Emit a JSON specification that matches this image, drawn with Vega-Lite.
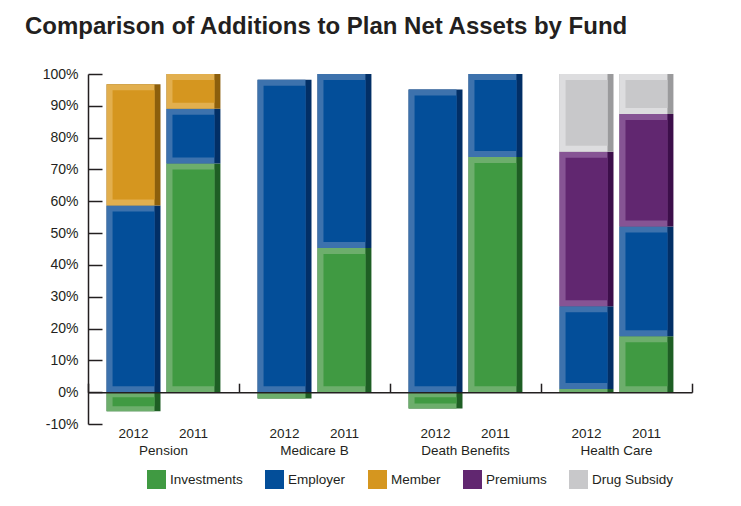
{
  "$schema": "https://vega.github.io/schema/vega-lite/v6.json",
  "width": 604,
  "height": 350,
  "autosize": {"type": "none"},
  "padding": {"left": 88, "top": 74, "right": 49, "bottom": 82},
  "background": "white",
  "title": {
    "text": "Comparison of Additions to Plan Net Assets by Fund",
    "anchor": "start",
    "frame": "group",
    "dx": -63,
    "offset": 9,
    "baseline": "alphabetic",
    "fontSize": 24,
    "font": "Liberation Sans",
    "fontWeight": "bold",
    "color": "#231F20"
  },
  "config": {
    "view": {"stroke": null},
    "font": "Liberation Sans",
    "legend": {
      "orient": "none",
      "legendX": 59,
      "legendY": 396,
      "direction": "horizontal",
      "padding": 0,
      "symbolType": "square",
      "symbolSize": 361,
      "symbolStrokeWidth": 0,
      "symbolOpacity": 1,
      "labelFontSize": 13.5,
      "labelFont": "Liberation Sans",
      "labelColor": "#231F20",
      "labelOffset": 4,
      "columnPadding": 22
    }
  },
  "datasets": {
    "shares": [
      {"fund": "Pension", "year": "2012", "series": "Investments", "rank": 1, "share": -0.06},
      {"fund": "Pension", "year": "2012", "series": "Employer", "rank": 2, "share": 0.587},
      {"fund": "Pension", "year": "2012", "series": "Member", "rank": 3, "share": 0.381},
      {"fund": "Pension", "year": "2011", "series": "Investments", "rank": 1, "share": 0.719},
      {"fund": "Pension", "year": "2011", "series": "Employer", "rank": 2, "share": 0.172},
      {"fund": "Pension", "year": "2011", "series": "Member", "rank": 3, "share": 0.109},
      {"fund": "Medicare B", "year": "2012", "series": "Investments", "rank": 1, "share": -0.02},
      {"fund": "Medicare B", "year": "2012", "series": "Employer", "rank": 2, "share": 0.982},
      {"fund": "Medicare B", "year": "2011", "series": "Investments", "rank": 1, "share": 0.453},
      {"fund": "Medicare B", "year": "2011", "series": "Employer", "rank": 2, "share": 0.547},
      {"fund": "Death Benefits", "year": "2012", "series": "Investments", "rank": 1, "share": -0.051},
      {"fund": "Death Benefits", "year": "2012", "series": "Employer", "rank": 2, "share": 0.951},
      {"fund": "Death Benefits", "year": "2011", "series": "Investments", "rank": 1, "share": 0.739},
      {"fund": "Death Benefits", "year": "2011", "series": "Employer", "rank": 2, "share": 0.261},
      {"fund": "Health Care", "year": "2012", "series": "Investments", "rank": 1, "share": 0.01},
      {"fund": "Health Care", "year": "2012", "series": "Employer", "rank": 2, "share": 0.26},
      {"fund": "Health Care", "year": "2012", "series": "Premiums", "rank": 4, "share": 0.486},
      {"fund": "Health Care", "year": "2012", "series": "Drug Subsidy", "rank": 5, "share": 0.244},
      {"fund": "Health Care", "year": "2011", "series": "Investments", "rank": 1, "share": 0.176},
      {"fund": "Health Care", "year": "2011", "series": "Employer", "rank": 2, "share": 0.345},
      {"fund": "Health Care", "year": "2011", "series": "Premiums", "rank": 4, "share": 0.353},
      {"fund": "Health Care", "year": "2011", "series": "Drug Subsidy", "rank": 5, "share": 0.126}
    ]
  },
  "resolve": {"scale": {"fill": "independent", "xOffset": "independent"}},
  "layer": [
    {
      "data": {"name": "shares"},
      "mark": {"type": "bar"},
      "encoding": {
        "x": {
          "field": "fund",
          "type": "nominal",
          "sort": ["Pension", "Medicare B", "Death Benefits", "Health Care"],
          "scale": {"paddingInner": 0, "paddingOuter": 0},
          "axis": {
            "title": null,
            "labels": false,
            "domain": true,
            "ticks": true,
            "tickBand": "extent",
            "tickSize": -9,
            "tickWidth": 1.5,
            "tickColor": "#231F20",
            "domainColor": "#231F20",
            "domainWidth": 1.5,
            "offset": -31.8,
            "zindex": 1
          }
        },
        "xOffset": {
          "field": "year",
          "type": "nominal",
          "sort": ["2012", "2011"],
          "scale": {"paddingInner": 0.1, "paddingOuter": 0.31}
        },
        "y": {
          "field": "share",
          "type": "quantitative",
          "stack": "zero",
          "scale": {"domain": [-0.1, 1], "nice": false, "zero": false},
          "axis": {
            "title": null,
            "grid": false,
            "values": [-0.1, 0, 0.1, 0.2, 0.3, 0.4, 0.5, 0.6, 0.7, 0.8, 0.9, 1],
            "tickCount": 12,
            "labelExpr": "round(datum.value * 100) + '%'",
            "labelOverlap": false,
            "labelFontSize": 14,
            "labelFont": "Liberation Sans",
            "labelColor": "#231F20",
            "labelPadding": 24,
            "tickSize": -14,
            "tickWidth": 1.5,
            "tickColor": "#231F20",
            "domainColor": "#231F20",
            "domainWidth": 1.5
          }
        },
        "fill": {
          "field": "series",
          "type": "nominal",
          "scale": {
            "domain": ["Investments", "Employer", "Member", "Premiums", "Drug Subsidy"],
            "range": ["#1E5E24", "#022F66", "#8C5F0C", "#3C0E4A", "#9A9A9C"]
          },
          "legend": null
        },
        "order": {"field": "rank", "type": "quantitative"}
      }
    },
    {
      "data": {"name": "shares"},
      "mark": {"type": "bar"},
      "encoding": {
        "x": {"field": "fund", "type": "nominal", "sort": ["Pension", "Medicare B", "Death Benefits", "Health Care"]},
        "xOffset": {
          "field": "year",
          "type": "nominal",
          "sort": ["2012", "2011"],
          "scale": {"paddingInner": 0.2, "paddingOuter": 0.36, "align": 0.4306}
        },
        "y": {"field": "share", "type": "quantitative", "stack": "zero"},
        "fill": {
          "field": "series",
          "type": "nominal",
          "scale": {
            "domain": ["Investments", "Employer", "Member", "Premiums", "Drug Subsidy"],
            "range": ["#6DAE6C", "#3D72AD", "#E2AF4E", "#865494", "#DDDDDF"]
          },
          "legend": null
        },
        "order": {"field": "rank", "type": "quantitative"}
      }
    },
    {
      "data": {"name": "shares"},
      "transform": [
        {"stack": "share", "groupby": ["fund", "year"], "sort": [{"field": "rank", "order": "ascending"}], "as": ["s0", "s1"]}
      ],
      "mark": {"type": "bar", "yOffset": 6, "y2Offset": -6},
      "encoding": {
        "x": {"field": "fund", "type": "nominal", "sort": ["Pension", "Medicare B", "Death Benefits", "Health Care"]},
        "xOffset": {
          "field": "year",
          "type": "nominal",
          "sort": ["2012", "2011"],
          "scale": {"domain": ["2012", "2011"], "paddingInner": 0.3, "paddingOuter": 0.41}
        },
        "y": {"field": "s1", "type": "quantitative"},
        "y2": {"field": "s0"},
        "fill": {
          "field": "series",
          "type": "nominal",
          "scale": {
            "domain": ["Investments", "Employer", "Member", "Premiums", "Drug Subsidy"],
            "range": ["#409A42", "#034E99", "#D5961F", "#612770", "#C8C8CA"]
          },
          "legend": {"title": null}
        },
        "fillOpacity": {"condition": {"test": "datum.share < 0.03", "value": 0}, "value": 1}
      }
    },
    {
      "data": {"name": "shares"},
      "transform": [
        {"filter": "datum.share < -0.03"},
        {"stack": "share", "groupby": ["fund", "year"], "as": ["s0", "s1"]}
      ],
      "mark": {"type": "bar", "yOffset": -5, "y2Offset": 5, "fill": "#409A42"},
      "encoding": {
        "x": {"field": "fund", "type": "nominal", "sort": ["Pension", "Medicare B", "Death Benefits", "Health Care"]},
        "xOffset": {
          "field": "year",
          "type": "nominal",
          "scale": {"domain": ["2012", "2011"], "paddingInner": 0.3, "paddingOuter": 0.41}
        },
        "y": {"field": "s1", "type": "quantitative"},
        "y2": {"field": "s0"}
      }
    },
    {
      "data": {
        "values": [
          {"fund": "Pension", "year": "2012"},
          {"fund": "Pension", "year": "2011"},
          {"fund": "Medicare B", "year": "2012"},
          {"fund": "Medicare B", "year": "2011"},
          {"fund": "Death Benefits", "year": "2012"},
          {"fund": "Death Benefits", "year": "2011"},
          {"fund": "Health Care", "year": "2012"},
          {"fund": "Health Care", "year": "2011"}
        ]
      },
      "mark": {"type": "text", "fontSize": 13.5, "font": "Liberation Sans", "color": "#231F20", "baseline": "middle"},
      "encoding": {
        "x": {"field": "fund", "type": "nominal", "sort": ["Pension", "Medicare B", "Death Benefits", "Health Care"]},
        "xOffset": {
          "field": "year",
          "type": "nominal",
          "scale": {"domain": ["2012", "2011"], "padding": 0.76}
        },
        "y": {"datum": -0.131},
        "text": {"field": "year"}
      }
    },
    {
      "data": {
        "values": [
          {"fund": "Pension"},
          {"fund": "Medicare B"},
          {"fund": "Death Benefits"},
          {"fund": "Health Care"}
        ]
      },
      "mark": {"type": "text", "fontSize": 13.5, "font": "Liberation Sans", "color": "#231F20", "baseline": "middle"},
      "encoding": {
        "x": {"field": "fund", "type": "nominal", "sort": ["Pension", "Medicare B", "Death Benefits", "Health Care"]},
        "y": {"datum": -0.186},
        "text": {"field": "fund"}
      }
    }
  ]
}
